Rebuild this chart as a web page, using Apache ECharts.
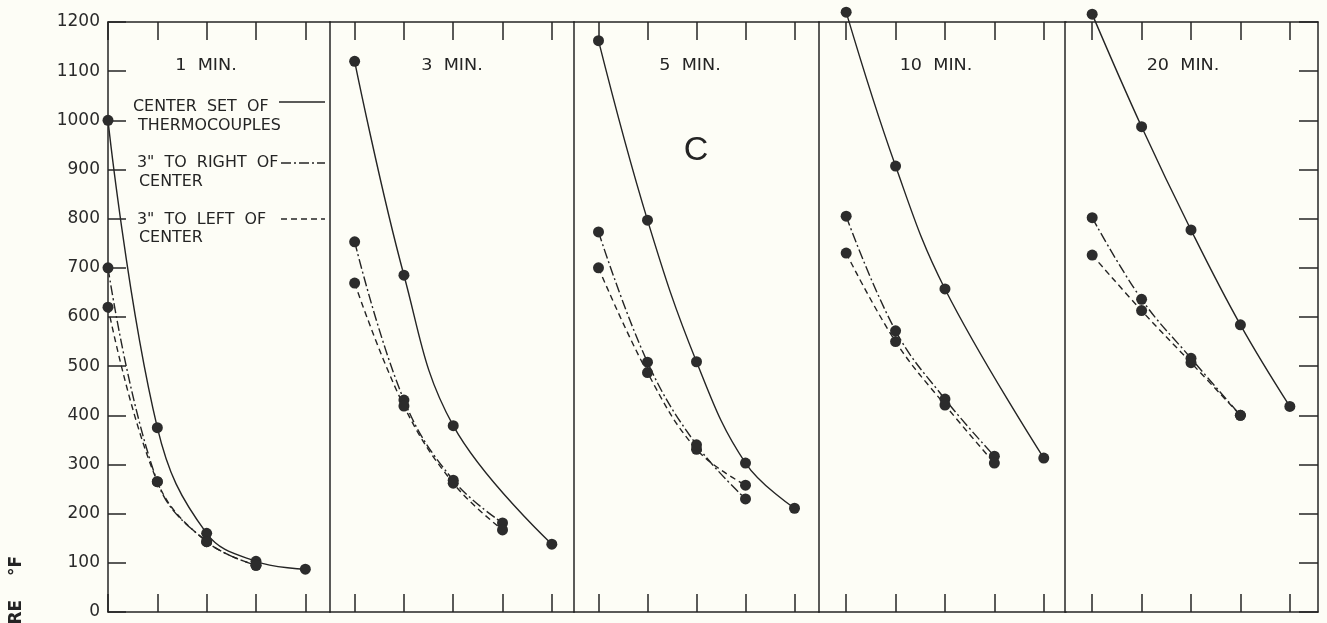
<!DOCTYPE html>
<html>
<head>
<meta charset="utf-8">
<title>Thermocouple temperatures</title>
<script src="https://cdn.jsdelivr.net/npm/echarts@6/dist/echarts.min.js"></script>
<style>
  html, body { margin: 0; padding: 0; background: #fdfdf6; }
  #chart { width: 1327px; height: 623px; }
</style>
</head>
<body>
<div id="chart"></div>
<script>
const panelTitles = ['1  MIN.', '3  MIN.', '5  MIN.', '10  MIN.', '20  MIN.'];
const depthTicks = [0, 1, 2, 3, 4];

// temperature °F read at each depth tick (null = no reading there)
const center1 = [1000, 375, 160, 103, 87];
const right1 = [700, 265, 143, 95];
const left1 = [620, 265, 143, 95];

const center3 = [1120, 685, 379, null, 138];
const right3 = [753, 431, 268, 181];
const left3 = [669, 419, 262, 167];

const center5 = [1162, 797, 509, 303, 211];
const right5 = [773, 508, 340, 230];
const left5 = [700, 487, 331, 258];

const center10 = [1220, 907, 657, null, 313];
const right10 = [805, 572, 433, 317];
const left10 = [730, 550, 421, 303];

const center20 = [1216, 987, 777, 584, 418];
const right20 = [802, 636, 516, 400];
const left20 = [726, 613, 507, 400];

const panels = [
  [center1, right1, left1],
  [center3, right3, left3],
  [center5, right5, left5],
  [center10, right10, left10],
  [center20, right20, left20],
];

// layout of the five panels (pixels) and their depth range
const panelLeft = [108, 330, 574, 819, 1065];
const panelWidth = [222, 244, 245, 247, 253];
const xMin = [0, -0.5, -0.5, -0.55, -0.55];
const xMax = [4.5, 4.45, 4.5, 4.45, 4.57];
const titleX = [206, 452, 690, 936, 1183];

const ink = '#242424';
const font = 'DejaVu Sans';
const dashDot = [10, 3, 2, 3];
const dashed = [6, 4];
const lineTypes = ['solid', dashDot, dashed];

const chart = echarts.init(document.getElementById('chart'), null, { renderer: 'canvas' });

const toPoints = (values) =>
  values.map((v, i) => (v == null ? null : [depthTicks[i], v])).filter(Boolean);

const grid = panelLeft.map((left, i) => ({ left, width: panelWidth[i], top: 22, bottom: 11 }));

const xAxis = [];
panelLeft.forEach((_, i) => {
  ['bottom', 'top'].forEach((position) => {
    xAxis.push({
      type: 'value',
      gridIndex: i,
      position,
      min: xMin[i],
      max: xMax[i],
      axisLine: { show: true, onZero: false, lineStyle: { color: ink, width: 1.5 } },
      axisTick: { show: true, inside: true, length: 18, customValues: depthTicks, lineStyle: { color: ink, width: 1.5 } },
      axisLabel: { show: false },
      splitLine: { show: false },
    });
  });
});

const yAxis = panelLeft.map((_, i) => ({
  type: 'value',
  gridIndex: i,
  min: 0,
  max: 1200,
  interval: 100,
  axisLine: { show: true, onZero: false, lineStyle: { color: ink, width: 1.5 } },
  axisTick: { show: i === 0, inside: true, length: 18, lineStyle: { color: ink, width: 1.5 } },
  axisLabel: {
    show: i === 0,
    margin: 8,
    color: '#2a2a2a',
    fontFamily: font,
    fontSize: 17,
    formatter: (v) => String(v),
  },
  splitLine: { show: false },
}));
yAxis.push({
  type: 'value',
  gridIndex: 4,
  position: 'right',
  min: 0,
  max: 1200,
  interval: 100,
  axisLine: { show: true, onZero: false, lineStyle: { color: ink, width: 1.5 } },
  axisTick: { show: true, inside: true, length: 19, lineStyle: { color: ink, width: 1.5 } },
  axisLabel: { show: false },
  splitLine: { show: false },
});

const series = [];
panels.forEach((sets, p) => {
  sets.forEach((values, s) => {
    series.push({
      type: 'line',
      xAxisIndex: p * 2,
      yAxisIndex: p,
      data: toPoints(values),
      smooth: 0.4,
      clip: false,
      symbol: 'circle',
      symbolSize: 11,
      itemStyle: { color: '#2c2c2c' },
      lineStyle: { color: ink, width: 1.4, type: lineTypes[s] },
      emphasis: { disabled: true },
      z: 3,
    });
  });
});

const text = (str, x, y, extra, scaleX) => ({
  type: 'text',
  x,
  y,
  scaleX: scaleX || 1.06,
  style: Object.assign(
    { text: str, fill: ink, font: `15px "${font}"`, textVerticalAlign: 'middle' },
    extra || {},
  ),
});
const sample = (x1, x2, y, lineDash) => ({
  type: 'line',
  shape: { x1, y1: y, x2, y2: y },
  style: { stroke: ink, lineWidth: 1.4, lineDash },
});

const graphic = [
  ...panelTitles.map((t, i) =>
    text(t, titleX[i], 66, { textAlign: 'center', font: `16px "${font}"` }, 1.1),
  ),
  text('CENTER  SET  OF', 133, 107),
  text('THERMOCOUPLES', 138, 126),
  text('3"  TO  RIGHT  OF', 137, 163),
  text('CENTER', 139, 182),
  text('3"  TO  LEFT  OF', 137, 220),
  text('CENTER', 139, 238),
  sample(279, 325, 102, null),
  sample(281, 325, 163, dashDot),
  sample(281, 325, 219, dashed),
  text('C', 696, 151, { textAlign: 'center', font: `34px "Liberation Sans"` }, 1),
  {
    type: 'text',
    x: 17,
    y: 556,
    rotation: Math.PI / 2,
    style: {
      text: 'TEMPERATURE    °F',
      fill: ink,
      font: `bold 17px "${font}"`,
      textAlign: 'right',
      textVerticalAlign: 'middle',
    },
  },
];

chart.setOption({
  backgroundColor: '#fdfdf6',
  animation: false,
  grid,
  xAxis,
  yAxis,
  series,
  graphic,
});
</script>
</body>
</html>
